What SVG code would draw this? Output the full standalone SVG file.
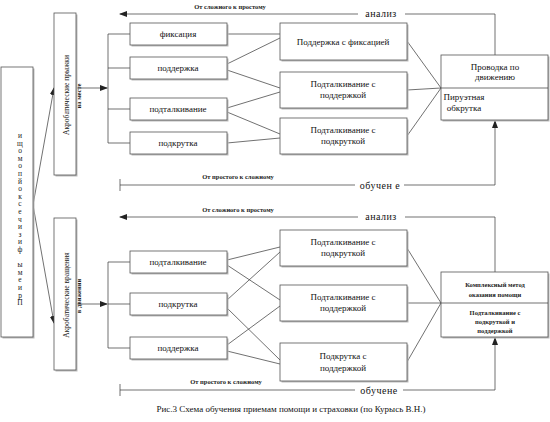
<svg xmlns="http://www.w3.org/2000/svg" width="550" height="422" viewBox="0 0 550 422">
<style>
.b{fill:#fff;stroke:#555;stroke-width:0.8}
.sh{fill:#bbb}
.l{stroke:#333;stroke-width:0.7;fill:none}
.t{font-family:"Liberation Serif","DejaVu Serif",serif;font-size:9px;fill:#111;text-anchor:middle}
.s{font-family:"Liberation Serif","DejaVu Serif",serif;font-size:6.5px;font-weight:bold;fill:#222;text-anchor:middle}
.k{font-family:"Liberation Serif","DejaVu Serif",serif;font-size:10px;fill:#111;text-anchor:middle;letter-spacing:0.5px}
.v{font-family:"Liberation Serif","DejaVu Serif",serif;font-size:7.5px;fill:#222;text-anchor:middle}
.c{font-family:"Liberation Serif","DejaVu Serif",serif;font-size:9px;fill:#111;text-anchor:middle}
</style>
<defs>
<marker id="ar" markerWidth="8" markerHeight="6" refX="7" refY="3" orient="auto" markerUnits="userSpaceOnUse">
<path d="M0,0 L8,3 L0,6 Z" fill="#222"/>
</marker>
</defs>

<g id="connectors">
<line class="l" x1="33" y1="205" x2="54" y2="88" marker-end="url(#ar)"/>
<line class="l" x1="33" y1="205" x2="54" y2="323" marker-end="url(#ar)"/>
<line class="l" x1="76" y1="88" x2="107" y2="88" marker-end="url(#ar)"/>
<line class="l" x1="108" y1="34" x2="108" y2="143"/>
<line class="l" x1="108" y1="34" x2="130" y2="34"/>
<line class="l" x1="108" y1="68" x2="130" y2="68"/>
<line class="l" x1="108" y1="109" x2="130" y2="109"/>
<line class="l" x1="108" y1="143" x2="130" y2="143"/>
<line class="l" x1="227" y1="34" x2="280" y2="34"/>
<line class="l" x1="227" y1="64" x2="280" y2="38"/>
<line class="l" x1="227" y1="70" x2="280" y2="88"/>
<line class="l" x1="227" y1="108" x2="280" y2="92"/>
<line class="l" x1="227" y1="112" x2="280" y2="134"/>
<line class="l" x1="227" y1="143" x2="280" y2="138"/>
<line class="l" x1="407" y1="41" x2="441" y2="88"/>
<line class="l" x1="407" y1="90" x2="441" y2="88"/>
<line class="l" x1="407" y1="136" x2="441" y2="88"/>
<line class="l" x1="358" y1="14" x2="120" y2="14" marker-end="url(#ar)"/>
<polyline class="l" points="405,14 495,14 495,55"/>
<line class="l" x1="120" y1="185" x2="355" y2="185"/>
<line class="l" x1="120" y1="179" x2="120" y2="191"/>
<polyline class="l" points="404,185 495,185 495,121" marker-end="url(#ar)"/>

<line class="l" x1="76" y1="304" x2="107" y2="304" marker-end="url(#ar)"/>
<line class="l" x1="108" y1="262" x2="108" y2="348"/>
<line class="l" x1="108" y1="262" x2="130" y2="262"/>
<line class="l" x1="108" y1="304" x2="130" y2="304"/>
<line class="l" x1="108" y1="348" x2="130" y2="348"/>
<line class="l" x1="227" y1="260" x2="280" y2="247"/>
<line class="l" x1="227" y1="265" x2="280" y2="300"/>
<line class="l" x1="227" y1="300" x2="280" y2="252"/>
<line class="l" x1="227" y1="308" x2="280" y2="360"/>
<line class="l" x1="227" y1="345" x2="280" y2="306"/>
<line class="l" x1="227" y1="351" x2="280" y2="364"/>
<line class="l" x1="407" y1="248" x2="441" y2="303"/>
<line class="l" x1="407" y1="303" x2="441" y2="303"/>
<line class="l" x1="407" y1="362" x2="441" y2="303"/>
<line class="l" x1="358" y1="217" x2="120" y2="217" marker-end="url(#ar)"/>
<polyline class="l" points="405,217 495,217 495,272"/>
<line class="l" x1="120" y1="390" x2="355" y2="390"/>
<line class="l" x1="120" y1="384" x2="120" y2="396"/>
<polyline class="l" points="403,390 495,390 495,338" marker-end="url(#ar)"/>
</g>

<g id="labels">
<text class="s" x="230" y="9">От сложного к простому</text>
<text class="k" x="381" y="17">анализ</text>
<text class="s" x="238" y="179">От простого к сложному</text>
<text class="k" x="380" y="189">обучен е</text>
<text class="s" x="238" y="212">От сложного к простому</text>
<text class="k" x="381" y="220">анализ</text>
<text class="s" x="226" y="384">От простого к сложному</text>
<text class="k" x="379" y="394">обучене</text>
<text class="c" x="291" y="412">Рис.3  Схема обучения приемам помощи и страховки (по Курысь В.Н.)</text>
</g>

<g id="n-main">
<rect class="sh" x="2.5" y="68.5" width="32" height="270"/>
<rect class="b" x="1" y="67" width="32" height="270"/>
<text x="20" y="131" font-family="Liberation Serif, DejaVu Serif, serif" font-size="7.5" letter-spacing="-1.4" fill="#222" writing-mode="vertical-rl" style="text-orientation:upright">ищомопйоксечизиф ымеирП</text>
</g>

<g id="n-acro1">
<rect class="sh" x="55.5" y="14.5" width="22" height="162"/>
<rect class="b" x="54" y="13" width="22" height="162"/>
<text class="v" transform="translate(69,95) rotate(-90)">Акробатические прыжки</text>
<text class="s" font-weight="normal" transform="translate(81,96) rotate(-90)">на месте</text>
</g>

<g id="n-acro2">
<rect class="sh" x="55.5" y="219.5" width="22" height="152"/>
<rect class="b" x="54" y="218" width="22" height="152"/>
<text class="v" transform="translate(69,295) rotate(-90)">Акробатические вращения</text>
<text class="s" font-weight="normal" transform="translate(81,296) rotate(-90)">в движении</text>
</g>

<g id="n-fix"><rect class="sh" x="131.5" y="24.5" width="97" height="22"/><rect class="b" x="130" y="23" width="97" height="22"/><text class="t" x="178" y="37">фиксация</text></g>
<g id="n-podd1"><rect class="sh" x="131.5" y="58.5" width="97" height="22"/><rect class="b" x="130" y="57" width="97" height="22"/><text class="t" x="178" y="71">поддержка</text></g>
<g id="n-podt1"><rect class="sh" x="131.5" y="99.5" width="97" height="22"/><rect class="b" x="130" y="98" width="97" height="22"/><text class="t" x="178" y="112">подталкивание</text></g>
<g id="n-podk1"><rect class="sh" x="131.5" y="133.5" width="97" height="22"/><rect class="b" x="130" y="132" width="97" height="22"/><text class="t" x="178" y="146">подкрутка</text></g>

<g id="n-psf"><rect class="sh" x="281.5" y="24.5" width="127" height="37"/><rect class="b" x="280" y="23" width="127" height="37"/><text class="t" x="343" y="45">Поддержка с фиксацией</text></g>
<g id="n-psp1"><rect class="sh" x="281.5" y="73.5" width="127" height="36"/><rect class="b" x="280" y="72" width="127" height="36"/><text class="t" x="343" y="87">Подталкивание с</text><text class="t" x="343" y="98">поддержкой</text></g>
<g id="n-psk1"><rect class="sh" x="281.5" y="119.5" width="127" height="36"/><rect class="b" x="280" y="118" width="127" height="36"/><text class="t" x="343" y="133">Подталкивание с</text><text class="t" x="343" y="144">подкруткой</text></g>

<g id="n-right1">
<rect class="sh" x="442.5" y="56.5" width="107" height="65"/>
<rect class="b" x="441" y="55" width="107" height="65"/>
<line class="l" x1="441" y1="88" x2="548" y2="88"/>
<text class="t" x="495" y="70">Проводка по</text>
<text class="t" x="495" y="80">движению</text>
<text class="t" x="464" y="100" text-anchor="start">Пируэтная</text>
<text class="t" x="464" y="111" text-anchor="start">обкрутка</text>
</g>

<g id="n-podt2"><rect class="sh" x="131.5" y="252.5" width="97" height="22"/><rect class="b" x="130" y="251" width="97" height="22"/><text class="t" x="178" y="265">подталкивание</text></g>
<g id="n-podk2"><rect class="sh" x="131.5" y="294.5" width="97" height="22"/><rect class="b" x="130" y="293" width="97" height="22"/><text class="t" x="178" y="307">подкрутка</text></g>
<g id="n-podd2"><rect class="sh" x="131.5" y="338.5" width="97" height="22"/><rect class="b" x="130" y="337" width="97" height="22"/><text class="t" x="178" y="351">поддержка</text></g>

<g id="n-psk2"><rect class="sh" x="281.5" y="231.5" width="127" height="36"/><rect class="b" x="280" y="230" width="127" height="36"/><text class="t" x="343" y="245">Подталкивание с</text><text class="t" x="343" y="256">подкруткой</text></g>
<g id="n-psp2"><rect class="sh" x="281.5" y="286.5" width="127" height="36"/><rect class="b" x="280" y="285" width="127" height="36"/><text class="t" x="343" y="300">Подталкивание с</text><text class="t" x="343" y="311">поддержкой</text></g>
<g id="n-ksp"><rect class="sh" x="281.5" y="344.5" width="127" height="38"/><rect class="b" x="280" y="343" width="127" height="38"/><text class="t" x="343" y="359">Подкрутка с</text><text class="t" x="343" y="371">поддержкой</text></g>

<g id="n-right2">
<rect class="sh" x="442.5" y="273.5" width="107" height="65"/>
<rect class="b" x="441" y="272" width="107" height="65"/>
<line class="l" x1="441" y1="303" x2="548" y2="303"/>
<text class="s" x="495" y="287">Комплексный метод</text>
<text class="s" x="495" y="297">оказания помощи</text>
<text class="s" x="495" y="315">Подталкивание с</text>
<text class="s" x="495" y="324">подкруткой и</text>
<text class="s" x="495" y="333">поддержкой</text>
</g>
</svg>
